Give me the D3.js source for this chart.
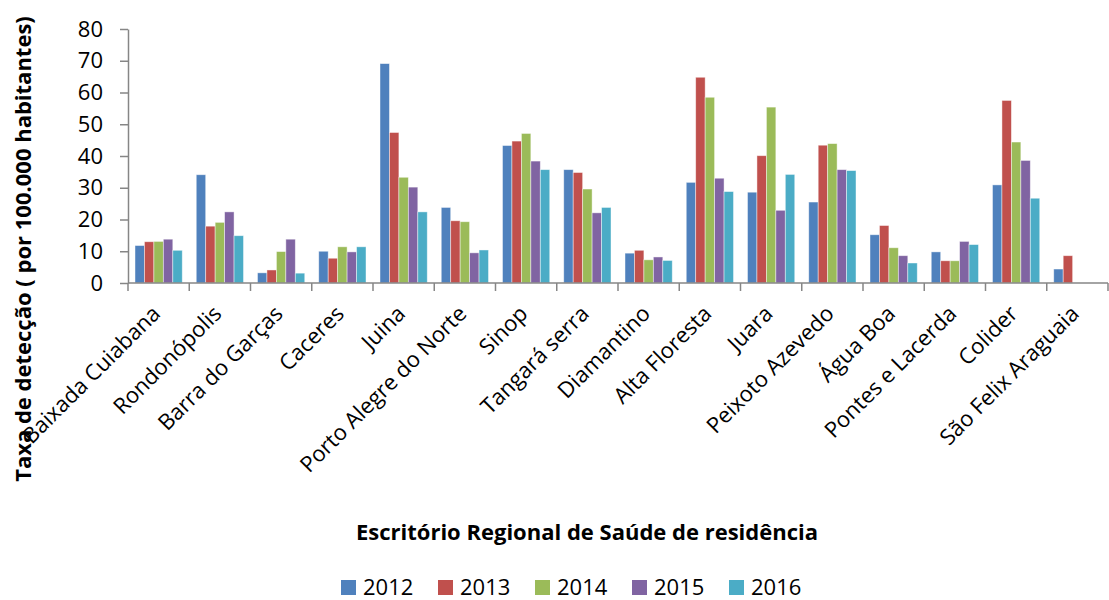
<!DOCTYPE html>
<html>
<head>
<meta charset="utf-8">
<script src="https://cdn.jsdelivr.net/npm/d3@7"></script>
<style>
  html, body { margin: 0; padding: 0; background: #fff; }
  svg { display: block; font-family: "Open Sans", sans-serif; }
</style>
</head>
<body>
<svg id="chart" width="1109" height="600"></svg>
<script>
// Regional health offices (x categories)
const categories = [
  "Baixada Cuiabana", "Rondonópolis", "Barra do Garças", "Caceres", "Juina",
  "Porto Alegre do Norte", "Sinop", "Tangará serra", "Diamantino", "Alta Floresta",
  "Juara", "Peixoto Azevedo", "Água Boa", "Pontes e Lacerda", "Colider", "São Felix Araguaia"
];

const years = ["2012", "2013", "2014", "2015", "2016"];

// Detection rate per 100,000 inhabitants, one array per year
const values2012 = [11.8, 34.1, 3.2, 10.0, 69.1, 23.8, 43.3, 35.7, 9.4, 31.7, 28.6, 25.5, 15.2, 9.8, 30.9, 4.4];
const values2013 = [13.0, 17.9, 4.1, 7.8, 47.4, 19.6, 44.7, 34.8, 10.3, 64.8, 40.1, 43.4, 18.1, 7.0, 57.5, 8.6];
const values2014 = [13.1, 19.1, 9.9, 11.4, 33.3, 19.3, 47.1, 29.6, 7.3, 58.5, 55.4, 43.9, 11.1, 7.0, 44.4, null];
const values2015 = [13.8, 22.4, 13.8, 9.8, 30.2, 9.5, 38.4, 22.1, 8.2, 33.0, 22.9, 35.7, 8.6, 13.1, 38.6, null];
const values2016 = [10.3, 14.9, 3.1, 11.4, 22.4, 10.4, 35.7, 23.8, 7.1, 28.8, 34.2, 35.4, 6.3, 12.1, 26.7, null];

const seriesValues = [values2012, values2013, values2014, values2015, values2016];
const colors = ["#4F81BD", "#C0504D", "#9BBB59", "#8064A2", "#4BACC6"];

const yTicks = [0, 10, 20, 30, 40, 50, 60, 70, 80];

const yTitle = "Taxa de detecção ( por 100.000 habitantes)";
const xTitle = "Escritório Regional de Saúde de residência";

const svg = d3.select("#chart");
const margin = { left: 128, right: 1, top: 29, bottom: 283 };
const axisColor = "#868686";

const x0 = d3.scaleBand()
  .domain(categories)
  .range([margin.left, 1109 - margin.right])
  .paddingInner(0).paddingOuter(0);

const x1 = d3.scaleBand()
  .domain(years)
  .range([0, x0.bandwidth()])
  .paddingInner(0).paddingOuter(0.74);

const y = d3.scaleLinear().domain([0, 80]).range([margin.bottom, margin.top]);

// Bars
const g = svg.append("g");
categories.forEach((cat, i) => {
  const grp = g.append("g").attr("transform", `translate(${x0(cat)},0)`);
  years.forEach((yr, s) => {
    const v = seriesValues[s][i];
    if (v == null) return;
    grp.append("rect")
      .attr("x", x1(yr))
      .attr("y", y(v))
      .attr("width", x1.bandwidth())
      .attr("height", y(0) - y(v))
      .attr("fill", colors[s])
      .attr("stroke", "rgba(255,255,255,0.55)")
      .attr("stroke-width", 0.8);
  });
});

// Y axis
const yAxis = svg.append("g")
  .attr("transform", `translate(${margin.left},0)`)
  .call(d3.axisLeft(y).tickValues(yTicks).tickSize(8).tickPadding(17).tickSizeOuter(0));
yAxis.select(".domain").attr("stroke", axisColor).attr("stroke-width", 1.5);
yAxis.selectAll(".tick line").attr("stroke", axisColor).attr("stroke-width", 1.5);
yAxis.selectAll(".tick text")
  .attr("fill", "#000")
  .style("font-size", "22px")
  .style("font-family", "'Open Sans', sans-serif");

// X axis line and category dividers
const xAxisG = svg.append("g");
xAxisG.append("line")
  .attr("x1", margin.left).attr("x2", 1109 - margin.right)
  .attr("y1", y(0)).attr("y2", y(0))
  .attr("stroke", axisColor).attr("stroke-width", 1.5);
const boundaries = categories.map(c => x0(c)).concat([x0(categories[categories.length - 1]) + x0.bandwidth()]);
xAxisG.selectAll("line.tk")
  .data(boundaries)
  .join("line")
  .attr("class", "tk")
  .attr("x1", d => d).attr("x2", d => d)
  .attr("y1", y(0)).attr("y2", y(0) + 8)
  .attr("stroke", axisColor).attr("stroke-width", 1.5);

// Rotated category labels
xAxisG.selectAll("text.cat")
  .data(categories)
  .join("text")
  .attr("class", "cat")
  .attr("transform", d => `translate(${x0(d) + x0.bandwidth() / 2 + 3},315) rotate(-45)`)
  .attr("text-anchor", "end")
  .style("font-size", "22px")
  .attr("fill", "#000")
  .text(d => d);

// Axis titles
svg.append("text")
  .attr("transform", "translate(31,249) rotate(-90)")
  .attr("text-anchor", "middle")
  .style("font-size", "22px")
  .style("font-weight", "bold")
  .attr("fill", "#000")
  .text(yTitle);

svg.append("text")
  .attr("x", 587).attr("y", 540)
  .attr("text-anchor", "middle")
  .style("font-size", "22px")
  .style("font-weight", "bold")
  .attr("fill", "#000")
  .text(xTitle);

// Legend
const legend = svg.append("g");
const legendX = d3.scalePoint().domain(years).range([341, 729]);
years.forEach((yr, s) => {
  const lg = legend.append("g").attr("transform", `translate(${legendX(yr)},0)`);
  lg.append("rect").attr("x", 0).attr("y", 580).attr("width", 15).attr("height", 15).attr("fill", colors[s]);
  lg.append("text").attr("x", 22).attr("y", 595)
    .style("font-size", "22px").attr("fill", "#000").text(yr);
});
</script>
</body>
</html>
